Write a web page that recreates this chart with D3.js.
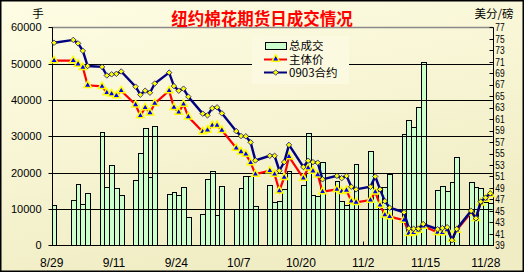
<!DOCTYPE html>
<html><head><meta charset="utf-8">
<script src="https://cdn.jsdelivr.net/npm/d3@7"></script>
<style>html,body{margin:0;padding:0;background:#fff;}svg{display:block;}</style>
</head><body>
<svg id="c" width="528" height="276"></svg>
<script>
// ---------- DATA ----------
const dates = ["2008-08-29",
 "2008-09-02","2008-09-03","2008-09-04","2008-09-05",
 "2008-09-08","2008-09-09","2008-09-10","2008-09-11","2008-09-12",
 "2008-09-15","2008-09-16","2008-09-17","2008-09-18","2008-09-19",
 "2008-09-22","2008-09-23","2008-09-24","2008-09-25","2008-09-26",
 "2008-09-29","2008-09-30","2008-10-01","2008-10-02","2008-10-03",
 "2008-10-06","2008-10-07","2008-10-08","2008-10-09","2008-10-10",
 "2008-10-13","2008-10-14","2008-10-15","2008-10-16","2008-10-17",
 "2008-10-20","2008-10-21","2008-10-22","2008-10-23","2008-10-24",
 "2008-10-27","2008-10-28","2008-10-29","2008-10-30","2008-10-31",
 "2008-11-03","2008-11-04","2008-11-05","2008-11-06","2008-11-07",
 "2008-11-10","2008-11-11","2008-11-12","2008-11-13","2008-11-14",
 "2008-11-17","2008-11-18","2008-11-19","2008-11-20","2008-11-21",
 "2008-11-24","2008-11-25","2008-11-26","2008-11-27","2008-11-28"];
const volume = [11000,
 12400,16800,11400,14300,
 31100,16000,22000,15700,13800,
 17900,25500,32200,18700,32800,
 14000,14600,13800,16000,7700,
 8500,18200,20400,8400,16200,
 9900,15700,19000,19000,10700,
 16500,11800,12100,15400,20400,
 16500,30800,13800,13500,22800,
 17600,12100,11000,11800,22300,
 25900,14900,16000,16000,19500,
 30600,34500,32500,38000,50400,
 15100,16200,14900,17300,24200,
 17400,16000,15800,12000,11600];
const mainPrice = [71.2,
 71.2,70.6,70.0,66.9,
 66.7,65.6,65.4,65.1,65.95,
 63.5,61.6,63.0,62.1,63.75,
 65.95,63.05,62.2,63.6,61.4,
 58.8,59.1,59.9,59.9,59.05,
 55.95,55.3,54.9,53.4,51.4,
 52.0,51.4,48.5,50.85,54.45,
 50.7,52.5,51.95,51.3,48.35,
 48.75,48.4,48.6,46.7,46.5,
 46.9,48.3,46.0,44.3,44.0,
 43.4,41.1,41.2,41.65,42.35,
 41.25,41.2,41.7,40.1,41.65,
 44.7,43.7,46.4,47.1,47.9];
const contract0903 = [74.3,
 74.8,74.2,72.9,70.25,
 70.1,68.6,68.8,68.9,69.3,
 66.65,65.25,65.95,65.6,67.2,
 69.1,66.75,65.95,66.3,64.9,
 61.95,61.65,62.9,63.05,62.0,
 58.9,58.05,58.0,56.95,53.8,
 54.6,54.6,52.0,53.5,56.5,
 52.65,53.75,53.5,53.4,50.5,
 51.1,50.7,51.1,49.2,48.75,
 49.2,51.0,48.75,46.7,45.55,
 44.75,41.95,41.9,41.9,42.7,
 41.8,42.0,42.15,39.9,41.85,
 45.0,43.7,46.6,47.3,48.05];
const xTickLabels = ["2008-08-29","2008-09-11","2008-09-24","2008-10-07","2008-10-20","2008-11-02","2008-11-15","2008-11-28"];
const leftTicks = [0,10000,20000,30000,40000,50000,60000];
const rightTicks = [39,41,43,45,47,49,51,53,55,57,59,61,63,65,67,69,71,73,75,77];
const title = "纽约棉花期货日成交情况";
const leftUnit = "手", rightUnit = "美分/磅";
const seriesNames = ["总成交","主体价","0903合约"];

// ---------- CHART ----------
const parse = d3.utcParse("%Y-%m-%d");
const DAY = 864e5;
const pts = dates.map((d,i)=>({date:parse(d), v:volume[i], p:mainPrice[i], c:contract0903[i]}));
const L=51.7, R=492.7, T=27.3, B=245.3;
const x = d3.scaleUtc().domain([parse("2008-08-29"), new Date(+parse("2008-11-28")+DAY)]).range([L,R]);
const yL = d3.scaleLinear().domain([0,60000]).range([B,T]);
const yR = d3.scaleLinear().domain([39,77]).range([B,T]);
const svg = d3.select("#c");
const defs = svg.append("defs");
const g1 = defs.append("linearGradient").attr("id","bg").attr("x1",0).attr("y1",0).attr("x2",0.4).attr("y2",1);
g1.append("stop").attr("offset","0%").attr("stop-color","#FEFDE4");
g1.append("stop").attr("offset","100%").attr("stop-color","#F0EDC4");
svg.append("rect").attr("x",0.75).attr("y",0.75).attr("width",522.5).attr("height",270.5)
  .attr("fill","url(#bg)").attr("stroke","#000").attr("stroke-width",1.5);

const cx = d => x(d.date) + (x(new Date(+d.date+DAY)) - x(d.date))/2;
const fr = v=>Math.round(v)+0.5;

// bars
svg.append("g").selectAll("rect").data(pts).join("rect")
  .attr("x", d=>Math.round(x(d.date))+0.5)
  .attr("width", d=>Math.round(x(new Date(+d.date+DAY)))-Math.round(x(d.date)))
  .attr("y", d=>Math.round(yL(d.v))+0.5)
  .attr("height", d=>Math.round(B)-Math.round(yL(d.v)))
  .attr("fill","#CCFFCC").attr("stroke","#000").attr("stroke-width",1);

// gridlines
svg.append("g").selectAll("line").data(leftTicks.filter(t=>t>0)).join("line")
  .attr("x1",L).attr("x2",R).attr("y1",d=>fr(yL(d))).attr("y2",d=>fr(yL(d)))
  .attr("stroke",d=>d===60000?"#8a8a8a":"#000").attr("stroke-width",d=>d===60000?1.5:1);

// axes lines
svg.append("line").attr("x1",fr(L)).attr("x2",fr(L)).attr("y1",fr(T)).attr("y2",fr(B)).attr("stroke","#000");
svg.append("line").attr("x1",fr(R)).attr("x2",fr(R)).attr("y1",fr(T)).attr("y2",fr(B)).attr("stroke","#000");
svg.append("line").attr("x1",fr(L)).attr("x2",fr(R)).attr("y1",fr(B)).attr("y2",fr(B)).attr("stroke","#000");

// left axis
const la = svg.append("g");
la.selectAll("line").data(leftTicks).join("line")
  .attr("x1",fr(L)-4).attr("x2",fr(L)).attr("y1",d=>fr(yL(d))).attr("y2",d=>fr(yL(d))).attr("stroke","#000");
la.selectAll("text").data(leftTicks).join("text")
  .attr("x",41.5).attr("y",d=>yL(d)+4).attr("text-anchor","end")
  .attr("font-family","Liberation Sans, Arial, sans-serif").attr("font-size",11).attr("fill","#000")
  .text(d=>d3.format("d")(d));

// right axis
const ra = svg.append("g");
ra.selectAll("line").data(rightTicks).join("line")
  .attr("x1",fr(R)-4).attr("x2",fr(R)).attr("y1",d=>fr(yR(d))).attr("y2",d=>fr(yR(d))).attr("stroke","#000");
ra.selectAll("text").data(rightTicks).join("text")
  .attr("transform",d=>`translate(500,${yR(d)+3.8}) scale(0.8,1)`).attr("text-anchor","middle")
  .attr("font-family","Liberation Sans, Arial, sans-serif").attr("font-size",10.5).attr("fill","#000")
  .text(d=>d);

// bottom axis
const xt = xTickLabels.map(parse);
svg.append("g").selectAll("line").data(xt).join("line")
  .attr("x1",d=>fr(x(d))).attr("x2",d=>fr(x(d))).attr("y1",fr(B)-4).attr("y2",fr(B)).attr("stroke","#000");
svg.append("g").selectAll("text").data(xt).join("text")
  .attr("x",(d,i)=>i===xt.length-1?x(d)-2:x(d)).attr("y",266.5).attr("text-anchor","middle")
  .attr("font-family","Liberation Sans, Arial, sans-serif").attr("font-size",12).attr("fill","#000")
  .text(d=>d3.utcFormat("%-m/%-d")(d));

// titles
svg.append("text").attr("x",262).attr("y",25).attr("text-anchor","middle")
  .attr("font-family","Noto Sans CJK SC, sans-serif").attr("font-weight","bold").attr("font-size",16.5)
  .attr("fill","#FF0000").text(title);
svg.append("text").attr("x",38).attr("y",17.5).attr("text-anchor","middle")
  .attr("font-family","Noto Sans CJK SC, sans-serif").attr("font-size",11.5).attr("fill","#000").text(leftUnit);
svg.append("text").attr("x",494).attr("y",17.5).attr("text-anchor","middle")
  .attr("font-family","Noto Sans CJK SC, sans-serif").attr("font-size",11.5).attr("fill","#000").text(rightUnit);

// legend
const tri = d3.symbol(d3.symbolTriangle,24)();
const dia = d3.symbol(d3.symbolSquare,15)();
const lg = svg.append("g");
lg.append("rect").attr("x",252).attr("y",36).attr("width",97).attr("height",48).attr("fill","#FBFAE0");
lg.append("rect").attr("x",265.5).attr("y",42.5).attr("width",21).attr("height",7)
  .attr("fill","#CCFFCC").attr("stroke","#000");
lg.append("line").attr("x1",264).attr("x2",287).attr("y1",59.5).attr("y2",59.5).attr("stroke","#FF0000").attr("stroke-width",2);
lg.append("path").attr("d",tri).attr("transform","translate(275.7,59)")
  .attr("fill","#0000FF").attr("stroke","#FFFF00").attr("stroke-width",1.5);
lg.append("line").attr("x1",264).attr("x2",287).attr("y1",72.5).attr("y2",72.5).attr("stroke","#000080").attr("stroke-width",2);
lg.append("path").attr("d",dia).attr("transform","translate(275.7,72.5) rotate(45)")
  .attr("fill","#FFFF00").attr("stroke","#000080").attr("stroke-width",0.7);
lg.selectAll("text.l").data(seriesNames).join("text").attr("class","l")
  .attr("x",289).attr("y",(d,i)=>50+i*13.5)
  .attr("font-family","Noto Sans CJK SC, sans-serif").attr("font-size",11.5).attr("fill","#000").text(d=>d);

// lines
const redLine = d3.line().x(cx).y(d=>yR(d.p));
const blueLine = d3.line().x(cx).y(d=>yR(d.c));
svg.append("path").datum(pts).attr("d",redLine).attr("fill","none").attr("stroke","#FF0000").attr("stroke-width",2.2);
svg.append("g").selectAll("path").data(pts).join("path")
  .attr("d",tri).attr("transform",d=>`translate(${cx(d)},${yR(d.p)})`)
  .attr("fill","#0000FF").attr("stroke","#FFFF00").attr("stroke-width",1.5);
svg.append("path").datum(pts).attr("d",blueLine).attr("fill","none").attr("stroke","#000080").attr("stroke-width",2.4);
svg.append("g").selectAll("path").data(pts).join("path")
  .attr("d",dia).attr("transform",d=>`translate(${cx(d)},${yR(d.c)}) rotate(45)`)
  .attr("fill","#FFFF00").attr("stroke","#000080").attr("stroke-width",0.7);
</script>
</body></html>
